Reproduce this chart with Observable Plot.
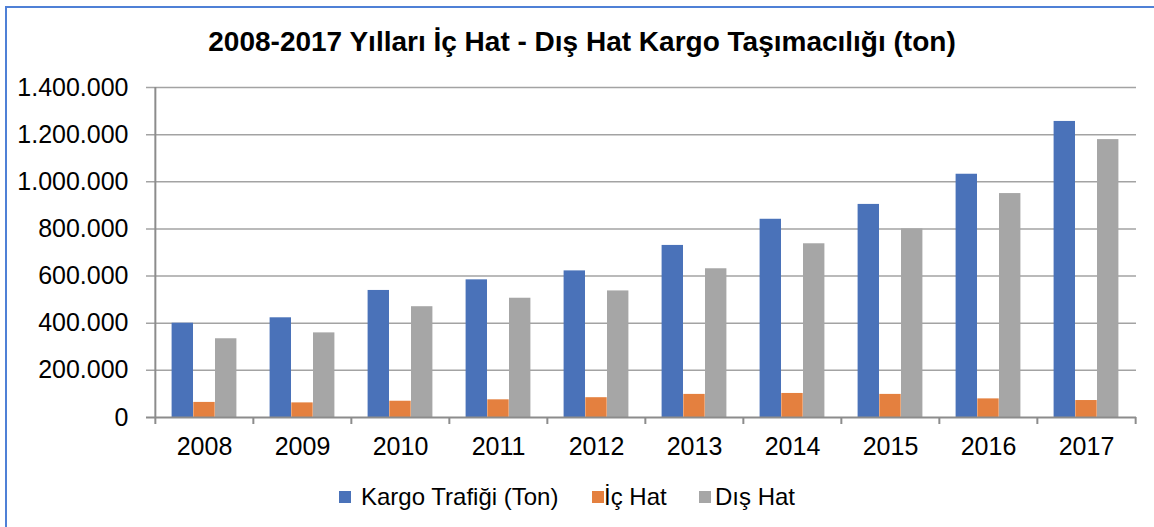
<!DOCTYPE html>
<html>
<head>
<meta charset="utf-8">
<script src="https://cdn.jsdelivr.net/npm/d3@7"></script>
<script src="https://cdn.jsdelivr.net/npm/@observablehq/plot@0.6"></script>
<style>
  html, body { margin: 0; padding: 0; background: #fff; }
  body { width: 1154px; height: 527px; overflow: hidden; position: relative; font-family: "Liberation Sans", Arial, sans-serif; }
  #frame { position: absolute; left: 5px; top: 6px; width: 1300px; height: 700px; border: 2px solid #4f80d6; pointer-events: none; }
  #title { height: 70px; box-sizing: border-box; padding-top: 28px; padding-left: 10px; line-height: 28px; text-align: center; font-weight: bold; font-size: 28px; color: #000; }
  #legend { position: relative; height: 57px; }
  #legend .sw { position: absolute; top: 21px; width: 12px; height: 12px; }
  #legend .lb { position: absolute; top: 15px; font-size: 24px; line-height: 24px; color: #000; white-space: nowrap; }
</style>
</head>
<body>
<div id="title">2008-2017 Yılları İç Hat - Dış Hat Kargo Taşımacılığı (ton)</div>
<div id="chart"></div>
<div id="legend"></div>
<div id="frame"></div>
<script>
// ---- data ----
const years = ["2008","2009","2010","2011","2012","2013","2014","2015","2016","2017"];
const seriesNames = ["Kargo Trafiği (Ton)", "İç Hat", "Dış Hat"];
const kargoTrafigi = [400000, 423000, 539000, 584000, 622000, 730000, 841000, 904000, 1032000, 1256000];
const icHat =        [ 64000,  62000,  69000,  75000,  84000,  98000, 102000,  98000,   79000,   72000];
const disHat =       [334000, 359000, 470000, 506000, 537000, 631000, 737000, 800000,  950000, 1179000];
const yTicks = [0, 200000, 400000, 600000, 800000, 1000000, 1200000, 1400000];
const colors = ["#4a72b9", "#e4803f", "#a6a6a6"];

// ---- layout ----
const W = 1154, H = 400, mL = 153, mR = 18, mT = 17, mB = 53;
const step = (W - mL - mR) / years.length;
const bw = 21.7;
const outer = (step - 3 * bw) / 2;
const plotH = H - mT - mB;

const rows = (vals) => years.map((y, i) => ({year: y, value: vals[i]}));
const seriesVals = [kargoTrafigi, icHat, disHat];

const tr = d3.formatLocale({decimal: ",", thousands: ".", grouping: [3], currency: ["", ""]});
const fmt = tr.format(",");

const bars = seriesVals.map((vals, k) =>
  Plot.barY(rows(vals), {
    x: "year", y: "value", fill: colors[k],
    insetLeft: outer + k * bw,
    insetRight: step - outer - (k + 1) * bw
  })
);

const chart = Plot.plot({
  width: W, height: H,
  marginLeft: mL, marginRight: mR, marginTop: mT, marginBottom: mB,
  style: {fontFamily: "'Liberation Sans', Arial, sans-serif", fontSize: "25px", color: "#000", background: "transparent"},
  x: {domain: years, padding: 0},
  y: {domain: [0, 1400000]},
  marks: [
    Plot.ruleY(yTicks.slice(1), {y: d => d, stroke: "#a3a3a3", strokeWidth: 1.5, insetLeft: -7}),
    ...bars,
    Plot.ruleY([0], {stroke: "#8c8c8c", strokeWidth: 2, insetLeft: -7}),
    Plot.ruleX([years[0]], {x: d => d, dx: -step / 2, stroke: "#8c8c8c", strokeWidth: 2, insetBottom: -7}),
    Plot.ruleX(years.slice(1), {x: d => d, dx: -step / 2, stroke: "#8c8c8c", strokeWidth: 2, insetTop: plotH, insetBottom: -7}),
    Plot.ruleX([years[years.length - 1]], {x: d => d, dx: step / 2, stroke: "#8c8c8c", strokeWidth: 2, insetTop: plotH, insetBottom: -7}),
    Plot.axisY(yTicks, {tickSize: 0, tickPadding: 25, tickFormat: fmt, label: null}),
    Plot.axisX({tickSize: 0, tickPadding: 20, label: null})
  ]
});
document.getElementById("chart").appendChild(chart);

// ---- legend ----
const legend = document.getElementById("legend");
const swLeft = [339, 592, 699];
const lbLeft = [361, 604, 715];
seriesNames.forEach((name, k) => {
  const sw = document.createElement("div");
  sw.className = "sw"; sw.style.left = swLeft[k] + "px"; sw.style.background = colors[k];
  const lb = document.createElement("div");
  lb.className = "lb"; lb.style.left = lbLeft[k] + "px"; lb.textContent = name;
  legend.appendChild(sw); legend.appendChild(lb);
});
</script>
</body>
</html>
